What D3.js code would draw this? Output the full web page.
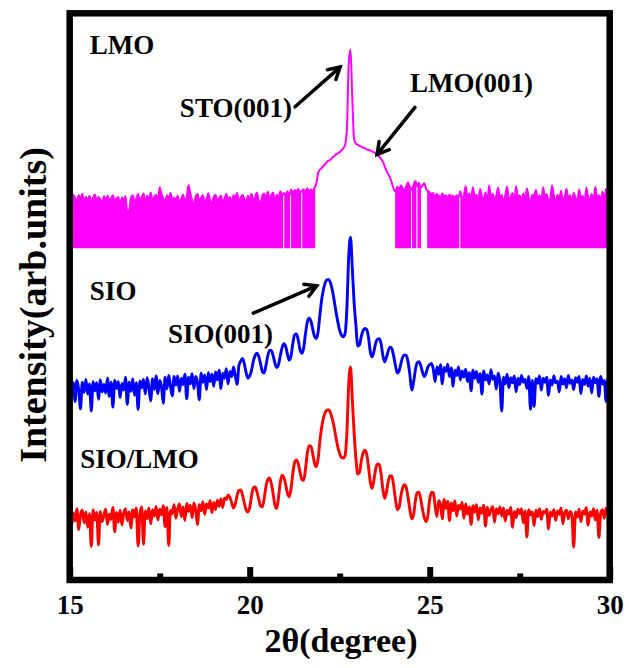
<!DOCTYPE html>
<html><head><meta charset="utf-8">
<script src="https://cdn.jsdelivr.net/npm/d3@7"></script>
<style>body{margin:0;background:#fff}svg{display:block}</style>
</head><body>
<svg id="chart" width="629" height="668"></svg>
<script>
// ---------- data ----------
const xMajorTicks = [15, 20, 25, 30];
const xMinorTicks = [17.5, 22.5, 27.5];
const gridStart = 15, gridStep = 0.05;   // 2θ sampling grid of the scans

// LMO scan (offset, log intensity, arb. units)
const lmo = [
68.3,67.2,68.0,67.4,66.8,67.9,67.3,68.1,66.5,67.6,67.0,67.8,66.3,67.5,68.0,66.9,67.6,67.2,66.4,67.7,
67.1,67.8,66.6,67.4,67.9,66.8,67.3,67.6,66.2,67.5,67.0,67.7,64.9,65.2,67.4,67.9,66.7,67.3,68.1,66.9,
67.5,68.2,66.6,67.8,67.1,68.4,66.9,67.6,68.0,66.7,69.3,68.1,67.4,66.5,67.9,67.2,68.3,66.8,67.5,67.0,
67.8,66.4,67.3,68.0,66.9,67.5,69.7,68.2,67.0,66.3,67.7,68.1,66.8,67.4,67.9,66.6,67.2,68.2,67.0,66.5,
67.6,68.0,66.9,67.4,67.8,66.6,67.3,68.1,67.0,67.6,66.4,67.9,67.5,68.3,66.8,67.4,68.0,67.2,66.7,67.8,
67.3,68.1,66.9,67.6,68.4,67.0,66.5,67.8,68.2,67.3,68.5,67.1,67.9,68.4,66.8,68.0,67.4,68.6,67.9,68.3,
68.0,68.6,67.7,68.9,68.2,68.8,68.4,69.0,68.3,68.7,68.9,68.5,69.1,68.6,68.9,68.7,69.2,70.0,71.8,72.4,
72.7,73.1,73.4,73.8,74.0,74.2,74.6,74.8,75.1,75.3,75.5,75.8,76.2,76.8,79.5,91.0,93.6,85.0,77.8,77.0,
76.8,76.6,76.5,76.3,76.2,76.0,75.9,75.8,75.6,75.5,75.3,75.1,74.7,74.3,73.8,73.0,72.2,71.6,71.0,70.0,
69.0,68.6,69.4,68.9,69.6,69.1,68.7,69.5,70.2,69.3,68.8,69.7,70.4,69.5,70.1,69.2,69.6,70.0,69.0,68.7,
68.4,68.0,68.3,67.6,68.1,67.8,67.5,68.2,67.7,67.9,67.4,68.0,67.6,67.8,67.3,67.9,67.5,68.6,67.2,67.8,
69.5,67.4,68.2,66.9,69.3,67.6,68.0,66.8,69.0,67.7,67.2,68.4,66.6,69.6,67.5,68.1,66.9,67.8,69.2,67.3,
68.0,66.5,67.9,69.4,67.1,67.6,68.3,66.7,69.5,67.4,67.9,66.8,68.2,67.0,69.1,67.5,66.4,68.0,67.6,68.8,
67.2,67.9,66.6,69.3,67.7,68.1,66.9,67.4,69.6,67.8,66.5,68.0,67.3,68.7,66.8,67.6,69.0,67.2,67.9,66.6,
68.3,67.5,66.9,68.9,67.4,67.8,66.5,69.2,67.6,67.0,68.1,66.7,69.4,67.3,67.9,66.8,68.5,67.2,69.0,67.7,
68.6];
// zero-count floor of the LMO scan and the 2θ spans where counts keep dropping to it
const lmoFloor = 58.5;
const lmoFloorSpans = [[15,20.93],[20.96,21.12],[21.15,21.43],[21.46,21.82],
                       [24.04,24.48],[24.51,24.63],[24.66,24.76],[24.93,25.82],[25.85,30]];

// SIO scan
const sio = [
35.5,33.0,34.8,31.5,35.2,33.6,30.2,34.9,33.1,35.4,32.8,34.6,29.8,35.0,33.4,34.8,31.9,35.3,33.2,34.5,
33.0,35.6,32.4,34.9,30.5,35.2,33.8,35.0,32.2,34.7,33.5,35.8,31.0,34.9,33.3,35.5,32.6,34.8,30.1,35.1,
33.9,35.4,32.8,35.7,34.0,31.6,35.5,33.6,36.0,32.9,35.2,34.1,31.2,35.8,33.7,36.1,34.2,32.5,35.9,34.4,
36.0,33.3,35.6,34.5,36.3,32.0,35.8,34.6,36.4,33.8,35.9,34.8,31.8,36.5,34.9,36.2,33.6,36.6,35.0,36.3,
34.2,36.7,35.3,37.0,33.8,36.5,35.6,37.3,34.6,36.8,35.9,37.6,36.0,34.5,37.8,38.6,39.1,38.2,36.6,35.6,
36.0,37.0,38.6,39.6,40.0,39.5,38.2,36.8,36.5,37.8,39.5,40.5,40.5,39.6,38.3,37.5,38.0,39.6,41.0,41.7,
41.2,39.8,38.8,39.6,41.8,43.3,43.4,42.3,40.6,40.0,41.0,43.5,45.5,46.2,45.7,44.3,43.0,42.6,43.8,46.8,
49.5,51.3,52.5,53.0,53.0,52.3,51.0,49.2,47.2,45.5,44.0,43.2,42.9,43.5,48.0,57.0,60.5,55.0,49.0,45.0,
41.3,41.5,43.0,44.0,44.4,44.2,42.8,40.3,39.4,40.3,41.8,42.5,42.6,41.7,39.6,38.5,39.3,40.5,41.1,40.8,
39.5,37.8,36.5,36.9,38.2,39.3,39.7,39.6,38.4,36.2,33.5,34.8,37.0,38.3,38.5,37.9,36.7,35.9,36.5,37.6,
38.0,38.2,37.2,35.0,37.6,36.3,38.0,34.6,37.5,36.8,38.1,35.9,37.4,34.2,37.0,36.1,37.6,35.3,36.9,35.8,
37.2,35.0,36.6,33.4,37.0,35.6,36.8,34.9,36.4,32.8,36.9,35.3,36.2,34.6,37.1,35.4,36.0,33.7,36.5,35.1,
29.8,35.8,34.6,36.3,33.9,35.7,34.8,36.0,33.2,35.6,34.5,36.1,34.9,35.4,33.8,35.9,30.1,35.2,30.6,35.5,
34.7,36.0,33.5,35.6,34.9,35.8,32.6,35.3,34.4,36.0,34.8,35.1,33.2,35.9,34.6,35.5,33.9,36.1,34.7,35.3,
33.6,35.7,34.9,35.9,32.9,35.4,34.5,36.0,34.2,35.6,33.0,35.8,34.8,35.5,32.4,35.9,34.6,35.2,31.5,35.6,
29.5];

// SIO/LMO scan
const sioLmo = [
12.2,9.6,11.8,10.4,12.6,8.9,11.5,12.3,10.1,12.0,9.3,11.7,5.9,12.4,10.6,11.9,6.2,12.1,10.3,11.4,
12.5,9.8,11.6,10.7,12.8,8.5,11.9,10.2,12.3,9.7,11.8,12.6,10.5,12.0,9.2,12.4,11.1,12.7,6.0,11.6,
12.9,6.3,12.2,10.8,12.7,9.9,12.4,11.3,13.0,10.6,12.5,11.5,13.1,9.4,12.8,6.1,12.3,11.7,13.3,10.9,
12.6,13.4,11.2,12.9,10.5,13.5,12.1,13.2,11.0,13.6,12.4,9.8,13.3,12.2,13.8,11.6,13.4,12.7,14.0,11.9,
13.7,12.4,14.1,13.0,14.3,12.8,14.5,14.2,15.0,14.6,13.6,12.7,13.4,14.9,15.8,15.9,15.0,13.6,12.4,12.0,
12.8,14.8,16.3,16.4,15.6,14.3,13.1,12.9,14.3,16.4,17.7,18.0,17.0,15.2,13.3,12.6,14.5,17.3,18.5,18.1,
16.8,15.3,14.7,16.2,18.9,20.8,21.2,20.5,19.0,17.7,17.6,19.6,22.4,23.7,23.6,22.3,20.6,20.0,21.4,24.5,
27.0,28.6,29.6,30.0,30.0,29.4,28.3,26.8,25.0,23.4,22.3,21.6,21.5,22.0,26.0,34.5,37.6,32.0,26.0,21.5,
18.7,19.0,21.0,22.4,22.9,22.2,20.0,17.3,16.2,17.6,19.6,20.5,20.4,18.7,16.0,14.4,15.6,17.5,18.4,18.3,
16.6,14.2,12.4,12.8,14.8,16.3,16.8,16.3,14.5,12.4,10.8,11.4,13.9,15.4,15.5,14.3,12.5,11.0,10.3,11.4,
14.2,15.5,15.4,13.1,11.2,14.0,13.3,10.8,14.2,12.6,13.9,10.5,13.6,12.2,14.0,11.3,13.2,12.5,13.7,10.9,
13.4,11.6,12.9,9.8,13.1,12.0,13.3,10.6,12.7,11.8,13.2,9.5,12.8,11.4,12.4,13.0,10.2,12.6,11.7,12.9,
11.3,12.7,10.4,12.3,11.6,12.8,9.3,12.1,11.0,12.5,11.7,12.6,10.1,12.2,7.6,12.4,11.5,12.0,9.6,12.3,
11.2,12.6,10.7,12.1,11.8,12.5,9.0,12.0,11.3,12.4,10.5,12.2,11.6,12.7,9.9,11.9,12.3,10.8,12.1,11.4,
5.8,12.0,11.1,12.5,10.3,12.2,11.6,12.8,9.7,12.0,11.3,12.6,10.6,12.3,7.5,11.8,12.4,10.9,12.7,11.5,
13.2];

const seriesNames  = ["LMO", "SIO", "SIO/LMO"];
const seriesColors = ["#ff00ff", "#0000ff", "#ff0000"];

// text labels and arrows, placed in data coordinates (2θ, intensity units)
const labels = [
  {text: "LMO",      x: 15.56, y: 92.9},
  {text: "STO(001)", x: 18.06, y: 81.7},
  {text: "LMO(001)", x: 24.45, y: 86.1},
  {text: "SIO",      x: 15.56, y: 49.4},
  {text: "SIO(001)", x: 17.73, y: 41.8},
  {text: "SIO/LMO",  x: 15.29, y: 19.75}
];
const arrows = [
  {from: [21.26, 83.5], to: [22.51, 90.5]},
  {from: [24.59, 83.4], to: [23.54, 75.1]},
  {from: [20.10, 47.1], to: [21.86, 51.9]}
];

// ---------- drawing ----------
const FONT = "'Liberation Serif','Times New Roman',serif";
const svg = d3.select("#chart");
const M = {left: 69.7, right: 609.7, top: 13.3, bottom: 580};
const x = d3.scaleLinear().domain([15, 30]).range([M.left, M.right]);
const y = d3.scaleLinear().domain([0, 100]).range([M.bottom, M.top]);

const toPts = arr => arr.map((v, i) => [gridStart + i * gridStep, v]);
const series = [lmo, sio, sioLmo].map(toPts);

const defs = svg.append("defs");
defs.append("clipPath").attr("id", "plotClip")
  .append("rect").attr("x", M.left).attr("y", M.top)
  .attr("width", M.right - M.left).attr("height", M.bottom - M.top);
const fillClip = defs.append("clipPath").attr("id", "floorClip");
lmoFloorSpans.forEach(s => fillClip.append("rect")
  .attr("x", x(s[0])).attr("width", x(s[1]) - x(s[0]))
  .attr("y", M.top).attr("height", y(lmoFloor) - M.top));

const g = svg.append("g").attr("clip-path", "url(#plotClip)");

// LMO zero-count drop-outs
g.append("g").attr("clip-path", "url(#floorClip)")
  .append("path").datum(series[0])
  .attr("fill", seriesColors[0])
  .attr("d", d3.area().x(d => x(d[0])).y0(y(lmoFloor)).y1(d => y(d[1])).curve(d3.curveLinear));

const line = d3.line().x(d => x(d[0])).y(d => y(d[1])).curve(d3.curveMonotoneX);
series.forEach((s, i) => {
  g.append("path").datum(s)
    .attr("fill", "none")
    .attr("stroke", seriesColors[i])
    .attr("stroke-width", i === 0 ? 2 : 2.9)
    .attr("stroke-linejoin", "round")
    .attr("d", line);
});

// axis ticks (inward) and labels
const axMajor = d3.axisBottom(x).tickValues(xMajorTicks).tickSize(-13).tickPadding(15).tickFormat(d3.format("d"));
const axMinor = d3.axisBottom(x).tickValues(xMinorTicks).tickSize(-6.5).tickFormat("");
[axMinor, axMajor].forEach(ax => {
  const a = svg.append("g").attr("transform", `translate(0,${M.bottom})`).call(ax);
  a.select(".domain").remove();
  a.selectAll(".tick line").attr("stroke", "#000").attr("stroke-width", 6);
  a.selectAll(".tick text").attr("font-family", FONT).attr("font-weight", "bold")
    .attr("font-size", 27).attr("fill", "#000");
});

// frame
svg.append("rect").attr("x", M.left).attr("y", M.top)
  .attr("width", M.right - M.left).attr("height", M.bottom - M.top)
  .attr("fill", "none").attr("stroke", "#000").attr("stroke-width", 6.5);

// axis titles
svg.append("text").attr("x", 341).attr("y", 652).attr("text-anchor", "middle")
  .attr("font-family", FONT).attr("font-weight", "bold").attr("font-size", 34)
  .text("2θ(degree)");
svg.append("text").attr("transform", "translate(46,305) rotate(-90)").attr("text-anchor", "middle")
  .attr("font-family", FONT).attr("font-weight", "bold").attr("font-size", 38)
  .text("Intensity(arb.units)");

// annotations
svg.append("g").selectAll("text").data(labels).join("text")
  .attr("x", d => x(d.x)).attr("y", d => y(d.y))
  .attr("font-family", FONT).attr("font-weight", "bold").attr("font-size", 27)
  .attr("fill", "#000").text(d => d.text);

const ag = svg.append("g").attr("stroke", "#000").attr("stroke-width", 3.5)
  .attr("stroke-linecap", "round").attr("fill", "none");
arrows.forEach(a => {
  const x1 = x(a.from[0]), y1 = y(a.from[1]), x2 = x(a.to[0]), y2 = y(a.to[1]);
  const ang = Math.atan2(y2 - y1, x2 - x1), L = 13, w = Math.PI / 6;
  ag.append("line").attr("x1", x1).attr("y1", y1).attr("x2", x2).attr("y2", y2);
  ag.append("path").attr("stroke-linejoin", "miter").attr("d",
    `M${x2 - L * Math.cos(ang - w)},${y2 - L * Math.sin(ang - w)}L${x2},${y2}L${x2 - L * Math.cos(ang + w)},${y2 - L * Math.sin(ang + w)}`);
});
</script>
</body></html>
